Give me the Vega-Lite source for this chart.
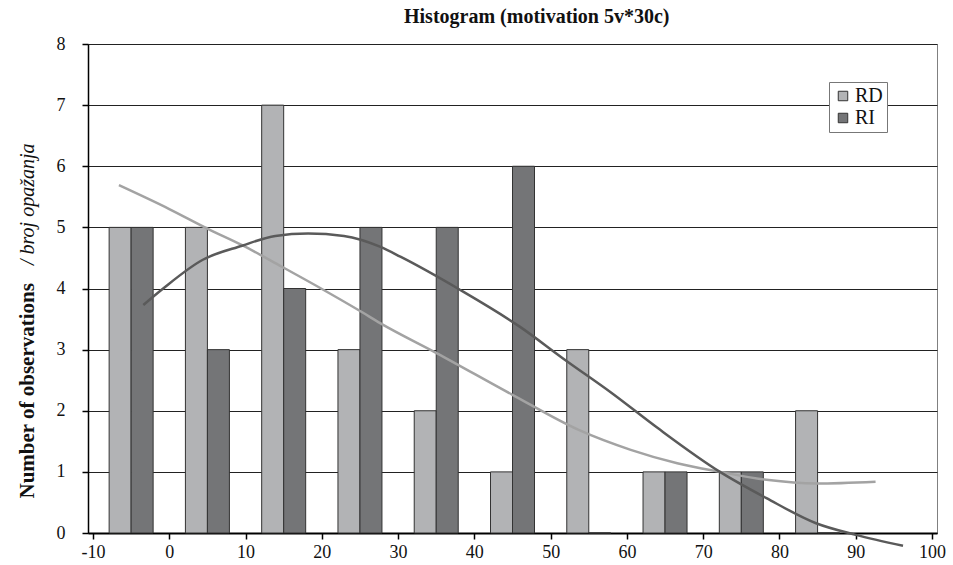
{
  "$schema": "https://vega.github.io/schema/vega-lite/v6.json",
  "width": 849,
  "height": 489,
  "autosize": {"type": "none"},
  "padding": {"left": 88, "top": 44, "right": 16, "bottom": 32},
  "background": "white",
  "config": {
    "view": {"stroke": "#808080", "strokeWidth": 1},
    "font": "Liberation Serif",
    "axis": {"labelFont": "Liberation Serif", "titleFont": "Liberation Serif", "labelColor": "#111", "titleColor": "#111"},
    "legend": {"labelFont": "Liberation Serif"}
  },
  "title": {
    "text": "Histogram (motivation 5v*30c)",
    "font": "Liberation Serif",
    "fontSize": 20,
    "fontWeight": "bold",
    "color": "#111",
    "anchor": "start",
    "dx": 316,
    "frame": "group",
    "offset": 8
  },
  "datasets": {
    "bars": [
      {"bin": -5, "series": "RD", "count": 5}, {"bin": -5, "series": "RI", "count": 5},
      {"bin": 5, "series": "RD", "count": 5}, {"bin": 5, "series": "RI", "count": 3},
      {"bin": 15, "series": "RD", "count": 7}, {"bin": 15, "series": "RI", "count": 4},
      {"bin": 25, "series": "RD", "count": 3}, {"bin": 25, "series": "RI", "count": 5},
      {"bin": 35, "series": "RD", "count": 2}, {"bin": 35, "series": "RI", "count": 5},
      {"bin": 45, "series": "RD", "count": 1}, {"bin": 45, "series": "RI", "count": 6},
      {"bin": 55, "series": "RD", "count": 3}, {"bin": 55, "series": "RI", "count": 0},
      {"bin": 65, "series": "RD", "count": 1}, {"bin": 65, "series": "RI", "count": 1},
      {"bin": 75, "series": "RD", "count": 1}, {"bin": 75, "series": "RI", "count": 1},
      {"bin": 85, "series": "RD", "count": 2}, {"bin": 85, "series": "RI", "count": 0}
    ],
    "fitRD": [
      {"x": -6.6, "y": 5.69}, {"x": 0, "y": 5.3}, {"x": 5.0, "y": 4.98}, {"x": 9.55, "y": 4.71},
      {"x": 14.7, "y": 4.36}, {"x": 19.9, "y": 4.0}, {"x": 24.9, "y": 3.64}, {"x": 27.7, "y": 3.43},
      {"x": 35.1, "y": 2.94}, {"x": 45.0, "y": 2.26}, {"x": 53.6, "y": 1.69}, {"x": 60.5, "y": 1.36},
      {"x": 66.6, "y": 1.14}, {"x": 72.2, "y": 1.0}, {"x": 78.3, "y": 0.87}, {"x": 84.8, "y": 0.81},
      {"x": 92.6, "y": 0.84}
    ],
    "fitRI": [
      {"x": -3.4, "y": 3.73}, {"x": -0.8, "y": 4.0}, {"x": 4.4, "y": 4.47}, {"x": 9.55, "y": 4.7},
      {"x": 13.9, "y": 4.86}, {"x": 18.2, "y": 4.9}, {"x": 22.9, "y": 4.86}, {"x": 27.7, "y": 4.68},
      {"x": 30.3, "y": 4.52}, {"x": 38.1, "y": 3.98}, {"x": 45.9, "y": 3.38}, {"x": 51.9, "y": 2.83},
      {"x": 58.0, "y": 2.29}, {"x": 64.0, "y": 1.72}, {"x": 72.2, "y": 1.0}, {"x": 78.3, "y": 0.57},
      {"x": 84.8, "y": 0.16}, {"x": 90.0, "y": -0.03}, {"x": 96.2, "y": -0.21}
    ]
  },
  "resolve": {"scale": {"y": "shared", "x": "shared"}, "axis": {"y": "independent", "x": "independent"}},
  "layer": [
    {
      "data": {"name": "bars"},
      "transform": [{"filter": "datum.series === 'RD'"}],
      "mark": {"type": "bar", "width": 22, "xOffset": -11, "stroke": "#333", "strokeWidth": 1},
      "encoding": {
        "x": {
          "field": "bin", "type": "quantitative",
          "scale": {"domain": [-10, 100], "nice": false, "zero": false},
          "axis": {
            "values": [-10, 0, 10, 20, 30, 40, 50, 60, 70, 80, 90, 100],
            "labelExpr": "'' + datum.value",
            "title": null, "grid": false,
            "domainColor": "#000", "domainWidth": 2,
            "tickColor": "#000", "tickWidth": 1.5, "tickSize": 6,
            "labelFont": "Liberation Serif", "labelFontSize": 18, "labelPadding": 4
          }
        },
        "y": {
          "field": "count", "type": "quantitative",
          "scale": {"domain": [0, 8], "nice": false},
          "axis": {
            "values": [0, 1, 2, 3, 4, 5, 6, 7, 8],
            "grid": true, "gridColor": "#222", "gridWidth": 1,
            "domainColor": "#000", "domainWidth": 1.5,
            "tickColor": "#000", "tickWidth": 1.5, "tickSize": 6,
            "labelFont": "Liberation Serif", "labelFontSize": 18, "labelPadding": 17,
            "title": "Number of observations",
            "titleFont": "Liberation Serif",
            "titleFontSize": 21, "titleFontWeight": "bold",
            "titleAngle": 270, "titleAlign": "left", "titleBaseline": "middle",
            "titleX": -61, "titleY": 454
          }
        },
        "color": {
          "field": "series", "type": "nominal",
          "scale": {"domain": ["RD", "RI"], "range": ["#b2b3b5", "#747577"]},
          "legend": {
            "title": null, "orient": "none", "legendX": 741, "legendY": 38,
            "symbolType": "square", "symbolSize": 90,
            "symbolStrokeColor": "#333", "symbolStrokeWidth": 1,
            "labelFont": "Liberation Serif", "labelFontSize": 20, "labelColor": "#111",
            "labelOffset": 2, "rowPadding": 2,
            "fillColor": "white", "strokeColor": "#777", "padding": 4
          }
        }
      }
    },
    {
      "data": {"name": "bars"},
      "transform": [{"filter": "datum.series === 'RI'"}],
      "mark": {"type": "bar", "width": 22, "xOffset": 11, "stroke": "#333", "strokeWidth": 1},
      "encoding": {
        "x": {"field": "bin", "type": "quantitative", "axis": null},
        "y": {"field": "count", "type": "quantitative", "axis": null},
        "color": {"field": "series", "type": "nominal"}
      }
    },
    {
      "data": {"name": "fitRD"},
      "mark": {"type": "line", "color": "#a3a3a3", "strokeWidth": 2.5, "interpolate": "monotone", "clip": false},
      "encoding": {
        "x": {"field": "x", "type": "quantitative", "axis": null},
        "y": {"field": "y", "type": "quantitative",
          "axis": {
            "orient": "left", "labels": false, "ticks": false, "domain": false, "grid": false,
            "title": "/ broj opažanja",
            "titleFont": "Liberation Serif",
            "titleFontSize": 20, "titleFontWeight": "normal", "titleFontStyle": "italic",
            "titleAngle": 270, "titleAlign": "right", "titleBaseline": "middle",
            "titleX": -61, "titleY": 99
          }
        }
      }
    },
    {
      "data": {"name": "fitRI"},
      "mark": {"type": "line", "color": "#5a5a5a", "strokeWidth": 2.5, "interpolate": "monotone", "clip": false},
      "encoding": {
        "x": {"field": "x", "type": "quantitative", "axis": null},
        "y": {"field": "y", "type": "quantitative", "axis": null}
      }
    }
  ]
}
